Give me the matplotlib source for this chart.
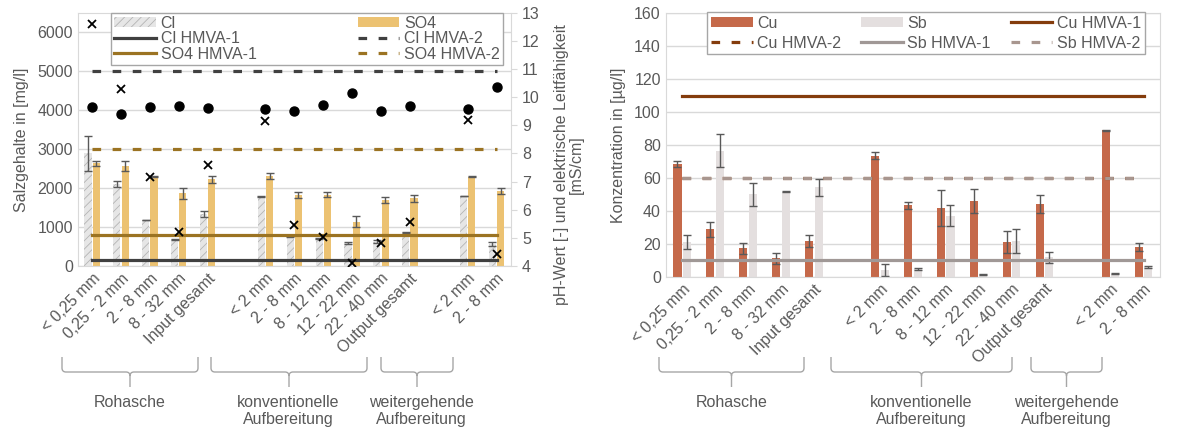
import numpy as np
import matplotlib
matplotlib.use('Agg')
import matplotlib.pyplot as plt
from matplotlib.path import Path
from matplotlib.patches import PathPatch, Patch
from matplotlib.lines import Line2D

plt.rcParams['font.family'] = ['Liberation Sans', 'DejaVu Sans']
plt.rcParams['font.size'] = 11.5
plt.rcParams['hatch.linewidth'] = 0.6

nan = np.nan
kategorien = ['< 0,25 mm', '0,25 - 2 mm', '2 - 8 mm', '8 - 32 mm', 'Input gesamt', '',
              '< 2 mm', '2 - 8 mm', '8 - 12 mm', '12 - 22 mm', '22 - 40 mm', 'Output gesamt', '',
              '< 2 mm', '2 - 8 mm']
gruppen = ['Rohasche', 'konventionelle\nAufbereitung', 'weitergehende\nAufbereitung']

# Salzgehalte [mg/l]
cl = [2890, 2100, 1180, 685, 1333, nan, 1778, 770, 710, 580, 625, 863, nan, 1795, 565]
cl_err = [445, 70, 10, 15, 72, nan, 10, 20, 20, 25, 40, 20, nan, 10, 60]
so4 = [2633, 2564, 2290, 1864, 2222, nan, 2316, 1820, 1830, 1136, 1692, 1735, nan, 2290, 1930]
so4_err = [70, 137, 10, 145, 100, nan, 72, 72, 70, 141, 77, 85, nan, 10, 80]
# pH und Leitfaehigkeit
ph = [9.66, 9.40, 9.64, 9.69, 9.60, nan, 9.58, 9.52, 9.72, 10.15, 9.52, 9.69, nan, 9.58, 10.36]
lf = [12.6, 10.28, 7.17, 5.2, 7.6, nan, 9.16, 5.46, 5.04, 4.1, 4.83, 5.57, nan, 9.19, 4.43]
cl_hmva1, cl_hmva2 = 150, 5000
so4_hmva1, so4_hmva2 = 800, 3000

# Schwermetalle [ug/l]
cu = [68.3, 28.8, 17.2, 11.2, 21.7, nan, 73.5, 43.4, 41.7, 46.0, 21.3, 44.2, nan, 89.1, 18.2]
cu_err = [1.7, 4.5, 3.5, 3.5, 3.5, nan, 2.2, 2.2, 10.9, 7.4, 6.7, 5.5, nan, 0.3, 2.4]
sb = [21, 76.6, 50.2, 51.7, 54.3, nan, 4, 4.5, 36.9, 1.6, 21.7, 11.8, nan, 1.8, 6]
sb_err = [4.4, 10.1, 7, 0.5, 5, nan, 3.6, 0.7, 6.4, 0.3, 7.3, 3.4, nan, 0.3, 0.7]
cu_hmva1, cu_hmva2 = 110, 60
sb_hmva1, sb_hmva2 = 10, 60

W, H = 1190, 436
fig = plt.figure(figsize=(W / 100, H / 100), dpi=100)

def px(x0, y0, x1, y1):
    return [x0 / W, 1 - y1 / H, (x1 - x0) / W, (y1 - y0) / H]

txt = '#595959'
grid = '#D9D9D9'
errc = '#595959'
x = np.arange(len(kategorien))
bw = 0.245
dash = (2.7, 3.6)
cl_fc, cl_hc = '#E6E6E6', '#B4B4B4'

def style(ax):
    for s in ax.spines.values():
        s.set_color(grid)
    ax.tick_params(colors=txt, length=0)
    ax.yaxis.grid(True, color=grid, lw=1)
    ax.set_axisbelow(True)
    ax.set_xlim(-0.5, len(kategorien) - 0.5)
    ax.set_xticks(x)
    ax.set_xticklabels(kategorien, rotation=45, ha='right', rotation_mode='anchor', color=txt)

# ---------- linkes Diagramm ----------
ax = fig.add_axes(px(77.7, 12.7, 511, 266))
style(ax)
ax.bar(x - bw / 2 - 0.02, cl, bw, color=cl_fc, edgecolor=cl_hc, hatch='////', lw=0,
       yerr=cl_err, error_kw=dict(ecolor=errc, elinewidth=1, capsize=3, capthick=1))
ax.bar(x + bw / 2 + 0.02, so4, bw, color='#ECC272',
       yerr=so4_err, error_kw=dict(ecolor=errc, elinewidth=1, capsize=3, capthick=1))
ax.plot(x, np.full(len(x), cl_hmva1), color='#404040', lw=2.3)
ax.plot(x, np.full(len(x), so4_hmva1), color='#9B7322', lw=2.3)
ax.plot(x, np.full(len(x), cl_hmva2), color='#404040', lw=2.3, dashes=dash)
ax.plot(x, np.full(len(x), so4_hmva2), color='#9B7322', lw=2.3, dashes=dash)
ax.set_ylim(0, 6500)
ax.set_yticks(range(0, 6001, 1000))
ax.set_ylabel('Salzgehalte in [mg/l]', color=txt, labelpad=6)

ax2 = ax.twinx()
ax2.set_ylim(4, 13)
ax2.set_yticks(range(4, 14))
for s in ax2.spines.values():
    s.set_visible(False)
ax2.tick_params(colors=txt, length=0)
ax2.tick_params(axis='y', length=4, color=grid, pad=4)
ax2.plot(x, ph, 'o', color='black', ms=6.5)
ax2.plot(x, lf, 'x', color='black', ms=6, mew=1.3)
ax2.set_ylabel('pH-Wert [-] und elektrische Leitfähigkeit\n[mS/cm]', color=txt, linespacing=1.0)
ax2.yaxis.set_label_coords(1.1, 0.40)

h_l = [Patch(facecolor=cl_fc, edgecolor=cl_hc, hatch='////', lw=0),
       Line2D([], [], color='#404040', lw=2.3),
       Line2D([], [], color='#9B7322', lw=2.3),
       Patch(facecolor='#ECC272'),
       Line2D([], [], color='#404040', lw=2.3, dashes=dash),
       Line2D([], [], color='#9B7322', lw=2.3, dashes=dash)]
lab_l = ['Cl', 'Cl HMVA-1', 'SO4 HMVA-1', 'SO4', 'Cl HMVA-2', 'SO4 HMVA-2']
leg = ax.legend(h_l, lab_l, ncol=2, loc='upper left', bbox_to_anchor=(0.077, 0.0, 0.905, 1.0),
                mode='expand', fancybox=False, edgecolor='#A6A6A6', framealpha=1,
                labelspacing=0.02, borderpad=0.2, handlelength=2.6, handletextpad=0.3,
                borderaxespad=0.0, labelcolor=txt, handleheight=0.6)
leg.get_frame().set_linewidth(1.0)

# ---------- rechtes Diagramm ----------
bx = fig.add_axes(px(665.7, 13.3, 1160, 276.7))
style(bx)
bx.bar(x - bw / 2 - 0.02, cu, bw, color='#C5694A',
       yerr=cu_err, error_kw=dict(ecolor=errc, elinewidth=1, capsize=3, capthick=1))
bx.bar(x + bw / 2 + 0.02, sb, bw, color='#E4DFDF',
       yerr=sb_err, error_kw=dict(ecolor=errc, elinewidth=1, capsize=3, capthick=1))
bx.plot(x, np.full(len(x), cu_hmva1), color='#843C0C', lw=2.3)
bx.plot(x, np.full(len(x), cu_hmva2), color='#843C0C', lw=2.3, dashes=dash)
bx.plot(x, np.full(len(x), sb_hmva1), color='#A09896', lw=2.3)
bx.plot(x, np.full(len(x), sb_hmva2), color='#A8968F', lw=2.3, dashes=dash)
bx.set_ylim(0, 160)
bx.set_yticks(range(0, 161, 20))
bx.set_ylabel('Konzentration in [µg/l]', color=txt, labelpad=6)

h_r = [Patch(facecolor='#C5694A'),
       Line2D([], [], color='#843C0C', lw=2.3, dashes=dash),
       Patch(facecolor='#E4DFDF'),
       Line2D([], [], color='#A09896', lw=2.3),
       Line2D([], [], color='#843C0C', lw=2.3),
       Line2D([], [], color='#A8968F', lw=2.3, dashes=dash)]
lab_r = ['Cu', 'Cu HMVA-2', 'Sb', 'Sb HMVA-1', 'Cu HMVA-1', 'Sb HMVA-2']
leg2 = bx.legend(h_r, lab_r, ncol=3, loc='upper left', bbox_to_anchor=(0.0836, 0.0, 0.886, 1.006),
                 mode='expand', fancybox=False, edgecolor='#A6A6A6', framealpha=1,
                 labelspacing=0.3, borderpad=0.25, handlelength=2.6, handletextpad=0.3,
                 borderaxespad=0.0, labelcolor=txt, handleheight=0.6)
leg2.get_frame().set_linewidth(1.0)

# ---------- Klammern und Gruppen ----------
def brace(x0, x1, y0=357, y1=372, y2=387, r=4):
    xc = (x0 + x1) / 2
    pts = [(x0, y0), (x0, y1 - r), (x0, y1), (x0 + r, y1), (xc - r, y1), (xc, y1), (xc, y1 + r),
           (xc, y2), (xc, y1 + r), (xc, y1), (xc + r, y1), (x1 - r, y1), (x1, y1), (x1, y1 - r), (x1, y0)]
    codes = [Path.MOVETO, Path.LINETO, Path.CURVE3, Path.CURVE3, Path.LINETO, Path.CURVE3, Path.CURVE3,
             Path.LINETO, Path.MOVETO, Path.CURVE3, Path.CURVE3, Path.LINETO, Path.CURVE3, Path.CURVE3,
             Path.LINETO]
    pts = [(p[0] / W, 1 - p[1] / H) for p in pts]
    fig.add_artist(PathPatch(Path(pts, codes), fill=False, edgecolor='#A6A6A6', lw=1))

def gruppe(xc, text):
    fig.text(xc / W, 1 - 395 / H, text, ha='center', va='top', color=txt, linespacing=1.2)

for (a, b), xc, t in zip([(62, 198), (211, 367), (381, 453)], [130, 288, 421], gruppen):
    brace(a, b)
    gruppe(xc, t)
for (a, b), xc, t in zip([(659, 804), (831, 1012), (1031, 1102)], [732, 921, 1066], gruppen):
    brace(a, b)
    gruppe(xc, t)

fig.savefig('out.png', dpi=100)
